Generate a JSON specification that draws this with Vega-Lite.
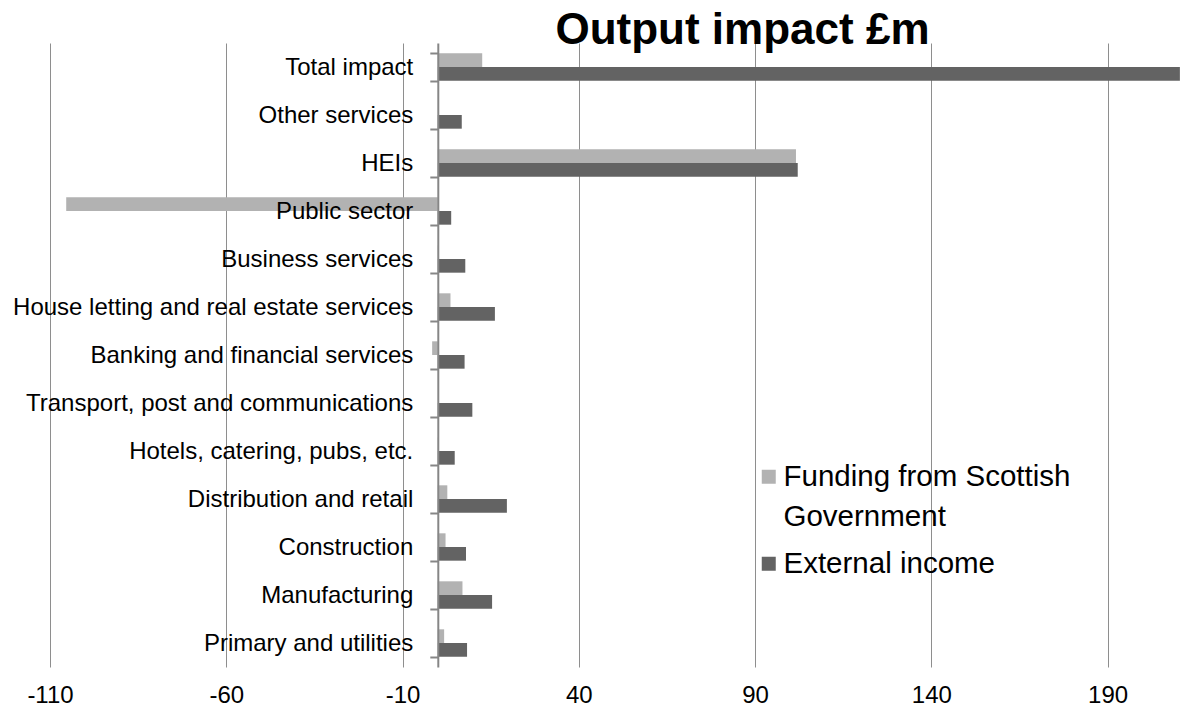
{
  "$schema": "https://vega.github.io/schema/vega-lite/v6.json",
  "width": 1132,
  "height": 624,
  "autosize": {"type": "none"},
  "padding": {"left": 50, "top": 43, "right": 0, "bottom": 55},
  "background": "white",
  "config": {"view": {"stroke": null}, "font": "Liberation Sans"},
  "title": {"text": "Output impact £m", "font": "Liberation Sans", "fontSize": 44, "fontWeight": "bold", "color": "black", "anchor": "middle", "frame": "group", "dx": 126.5, "offset": -22},
  "data": {"values": [
    {"sector": "Total impact", "series": "Funding from Scottish Government", "value": 12.6},
    {"sector": "Total impact", "series": "External income", "value": 210.5},
    {"sector": "Other services", "series": "Funding from Scottish Government", "value": 0},
    {"sector": "Other services", "series": "External income", "value": 6.8},
    {"sector": "HEIs", "series": "Funding from Scottish Government", "value": 101.6},
    {"sector": "HEIs", "series": "External income", "value": 102.1},
    {"sector": "Public sector", "series": "Funding from Scottish Government", "value": -105.4},
    {"sector": "Public sector", "series": "External income", "value": 3.8},
    {"sector": "Business services", "series": "Funding from Scottish Government", "value": 0.2},
    {"sector": "Business services", "series": "External income", "value": 7.8},
    {"sector": "House letting and real estate services", "series": "Funding from Scottish Government", "value": 3.6},
    {"sector": "House letting and real estate services", "series": "External income", "value": 16.2},
    {"sector": "Banking and financial services", "series": "Funding from Scottish Government", "value": -1.6},
    {"sector": "Banking and financial services", "series": "External income", "value": 7.6},
    {"sector": "Transport, post and communications", "series": "Funding from Scottish Government", "value": 0},
    {"sector": "Transport, post and communications", "series": "External income", "value": 9.8},
    {"sector": "Hotels, catering, pubs, etc.", "series": "Funding from Scottish Government", "value": 0.3},
    {"sector": "Hotels, catering, pubs, etc.", "series": "External income", "value": 4.8},
    {"sector": "Distribution and retail", "series": "Funding from Scottish Government", "value": 2.7},
    {"sector": "Distribution and retail", "series": "External income", "value": 19.6},
    {"sector": "Construction", "series": "Funding from Scottish Government", "value": 2.2},
    {"sector": "Construction", "series": "External income", "value": 8.0},
    {"sector": "Manufacturing", "series": "Funding from Scottish Government", "value": 7.0},
    {"sector": "Manufacturing", "series": "External income", "value": 15.4},
    {"sector": "Primary and utilities", "series": "Funding from Scottish Government", "value": 1.8},
    {"sector": "Primary and utilities", "series": "External income", "value": 8.3}
  ]},
  "mark": {"type": "bar"},
  "encoding": {
    "y": {
      "field": "sector", "type": "nominal",
      "sort": ["Total impact", "Other services", "HEIs", "Public sector", "Business services", "House letting and real estate services", "Banking and financial services", "Transport, post and communications", "Hotels, catering, pubs, etc.", "Distribution and retail", "Construction", "Manufacturing", "Primary and utilities"],
      "scale": {"paddingInner": 0.43, "paddingOuter": 0.215},
      "axis": {"title": null, "offset": -387.8, "zindex": 1, "domainColor": "#868686", "domainWidth": 2, "tickBand": "extent", "tickColor": "#868686", "tickWidth": 2, "tickSize": 8, "labelFontSize": 24, "labelFont": "Liberation Sans", "labelColor": "black", "labelPadding": 17, "labelLimit": 600, "grid": false}
    },
    "x": {
      "field": "value", "type": "quantitative",
      "scale": {"domain": [-110, 211.1], "nice": false, "zero": false},
      "axis": {"title": null, "values": [-110, -60, -10, 40, 90, 140, 190], "labelExpr": "toString(datum.value)", "grid": true, "gridColor": "#8e8e8e", "gridWidth": 1, "domain": false, "ticks": false, "tickSize": 0, "labelFontSize": 24, "labelFont": "Liberation Sans", "labelColor": "black", "labelPadding": 16, "labelFlush": false, "labelOverlap": false, "zindex": 0}
    },
    "yOffset": {"field": "series", "type": "nominal", "sort": ["Funding from Scottish Government", "External income"]},
    "color": {
      "field": "series", "type": "nominal",
      "scale": {"domain": ["Funding from Scottish Government", "External income"], "range": ["#b2b2b2", "#636363"]},
      "legend": {
        "title": null, "orient": "none", "legendX": 704, "legendY": 419, "direction": "vertical",
        "symbolType": "square", "symbolSize": 196, "symbolStrokeWidth": 0,
        "labelFontSize": 29.5, "labelFont": "Liberation Sans", "labelColor": "black", "labelOffset": 0,
        "rowPadding": 16, "padding": 0, "labelLimit": 1000,
        "labelExpr": "datum.label == 'Funding from Scottish Government' ? ['Funding from Scottish', 'Government'] : datum.label",
        "encode": {"labels": {"update": {"lineHeight": {"value": 40}}}}
      }
    }
  }
}
